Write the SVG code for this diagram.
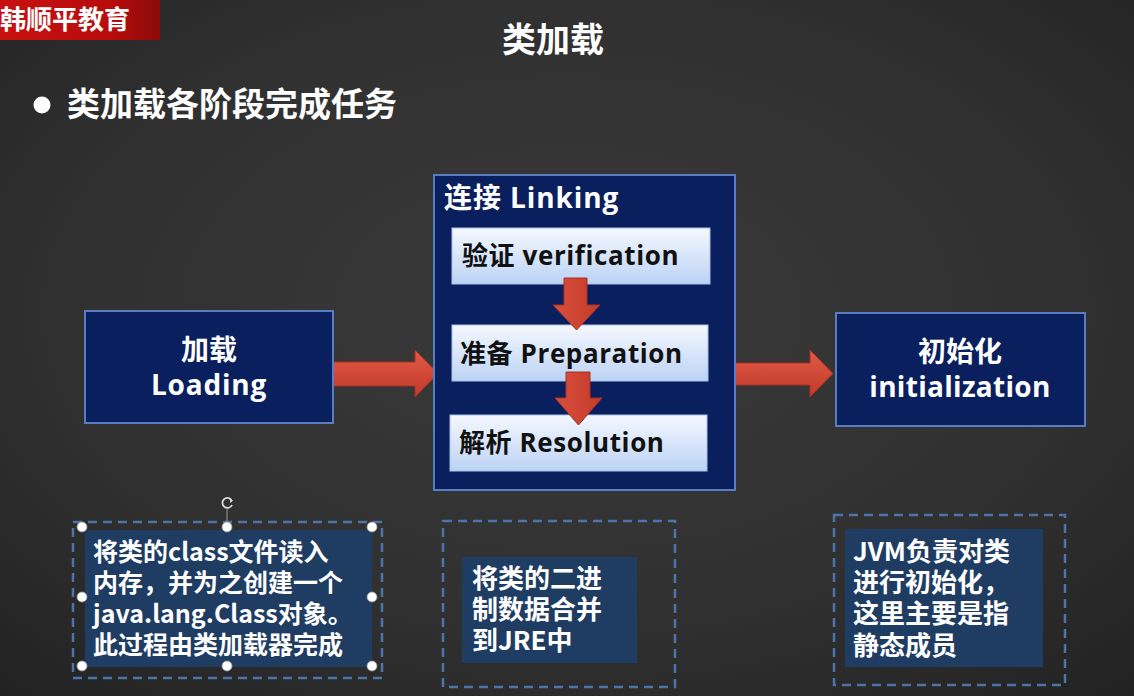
<svg xmlns="http://www.w3.org/2000/svg" width="1134" height="696" viewBox="0 0 1134 696">
  <defs>
    <radialGradient id="board" cx="50%" cy="45%" r="75%">
      <stop offset="0" stop-color="#3a3a3a"/>
      <stop offset="0.6" stop-color="#303030"/>
      <stop offset="1" stop-color="#222222"/>
    </radialGradient>
    <linearGradient id="badge" x1="0" y1="0" x2="1" y2="0">
      <stop offset="0" stop-color="#c81010"/>
      <stop offset="0.7" stop-color="#b80c0c"/>
      <stop offset="1" stop-color="#8a0a0a"/>
    </linearGradient>
    <linearGradient id="step" x1="0" y1="0" x2="0" y2="1">
      <stop offset="0" stop-color="#f4f8ff"/>
      <stop offset="1" stop-color="#bcd3f5"/>
    </linearGradient>
    <linearGradient id="arrowH" x1="0" y1="0" x2="0" y2="1">
      <stop offset="0" stop-color="#e05a45"/>
      <stop offset="1" stop-color="#c23a2a"/>
    </linearGradient>
    <linearGradient id="arrowV" x1="0" y1="0" x2="1" y2="0">
      <stop offset="0" stop-color="#d94e3b"/>
      <stop offset="1" stop-color="#c43b2b"/>
    </linearGradient>
  </defs>
  <style>
    .cjk { font-family: "Noto Sans CJK SC", "Noto Sans", sans-serif; font-weight: bold; }
    .label { font-family: "Open Sans", "Noto Sans CJK SC", sans-serif; font-weight: bold; }
    .white { fill: #ffffff; }
    .dark { fill: #111111; }
    .stage { fill: #0a1f5e; stroke: #5a7cc0; stroke-width: 2; }
    .step { fill: url(#step); stroke: #a9c1e6; stroke-width: 1; }
    .note { fill: #1f3d63; }
    .frame { fill: none; stroke: #4d74a8; stroke-width: 2.5; stroke-dasharray: 9 6; }
    .handle { fill: #ffffff; stroke: #9a9a9a; stroke-width: 0.8; }
    .arrow-h { fill: url(#arrowH); stroke: #a83020; stroke-width: 1; }
    .arrow-v { fill: url(#arrowV); stroke: #a83020; stroke-width: 1; }
  </style>

  <!-- chalkboard background -->
  <rect x="0" y="0" width="1134" height="696" fill="url(#board)"/>

  <!-- brand badge -->
  <g id="badge-group">
    <rect x="0" y="0" width="160" height="40" fill="url(#badge)"/>
    <text x="0" y="29" class="cjk white" font-size="26">韩顺平教育</text>
  </g>

  <!-- slide title and bullet -->
  <text x="553" y="52" class="cjk white" font-size="34" text-anchor="middle">类加载</text>
  <circle cx="42" cy="105" r="8.5" fill="#ffffff"/>
  <text x="67" y="116" class="cjk white" font-size="33">类加载各阶段完成任务</text>

  <!-- connectors -->
  <g id="connectors">
    <polygon class="arrow-h" points="333,362 415,362 415,350 438,373.5 415,397 415,386 333,386"/>
    <polygon class="arrow-h" points="735,363 810,363 810,350 833,373.5 810,397 810,385 735,385"/>
  </g>

  <!-- loading stage -->
  <g id="node-loading">
    <rect class="stage" x="85" y="311" width="248" height="112"/>
    <text x="209" y="360" class="label white" font-size="28" text-anchor="middle">加载</text>
    <text x="209" y="395" class="label white" font-size="28" text-anchor="middle" letter-spacing="0.8">Loading</text>
  </g>

  <!-- linking stage with its three steps -->
  <g id="node-linking">
    <rect class="stage" x="434" y="175" width="301" height="315"/>
    <text x="444" y="208" class="label white" font-size="28" letter-spacing="0.9">连接 Linking</text>
  </g>
  <g id="node-verification">
    <rect class="step" x="452" y="228" width="258" height="56"/>
    <text x="462" y="265" class="label dark" font-size="26" letter-spacing="0.6">验证 verification</text>
  </g>
  <g id="node-preparation">
    <rect class="step" x="452" y="325" width="256" height="56"/>
    <text x="460" y="363" class="label dark" font-size="26" letter-spacing="0.6">准备 Preparation</text>
  </g>
  <g id="node-resolution">
    <rect class="step" x="450" y="415" width="257" height="56"/>
    <text x="459" y="452" class="label dark" font-size="26" letter-spacing="0.6">解析 Resolution</text>
  </g>
  <!-- step arrows sit on top of the step boxes -->
  <g id="connectors-steps">
    <polygon class="arrow-v" points="564,278 587,278 587,305 600,305 576.5,330 553,305 564,305"/>
    <polygon class="arrow-v" points="566,372 590,372 590,398 602,398 578.5,425 555,398 566,398"/>
  </g>

  <!-- initialization stage -->
  <g id="node-initialization">
    <rect class="stage" x="836" y="313" width="249" height="113"/>
    <text x="960" y="362" class="label white" font-size="28" text-anchor="middle">初始化</text>
    <text x="960" y="397" class="label white" font-size="28" text-anchor="middle" letter-spacing="0.3">initialization</text>
  </g>

  <!-- note under loading (shown selected) -->
  <g id="note-loading">
    <rect class="frame" x="73" y="522" width="309" height="156"/>
    <rect class="note" x="85" y="530" width="287" height="137"/>
    <text class="cjk white" font-size="25">
      <tspan x="93" y="561">将类的class文件读入</tspan>
      <tspan x="93" y="592">内存，并为之创建一个</tspan>
      <tspan x="93" y="623">java.lang.Class对象。</tspan>
      <tspan x="93" y="654">此过程由类加载器完成</tspan>
    </text>
    <line x1="227" y1="509" x2="227" y2="527" stroke="#9a9a9a" stroke-width="1"/>
    <path d="M231.5,500 A5,5 0 1 0 232,505" fill="none" stroke="#dddddd" stroke-width="1.8"/>
    <path d="M229.5,498.5 L233,500.5 L230.5,503 Z" fill="#dddddd"/>
    <circle class="handle" cx="82" cy="527" r="5"/>
    <circle class="handle" cx="227" cy="527" r="5"/>
    <circle class="handle" cx="372" cy="527" r="5"/>
    <circle class="handle" cx="82" cy="597" r="5"/>
    <circle class="handle" cx="372" cy="597" r="5"/>
    <circle class="handle" cx="82" cy="666" r="5"/>
    <circle class="handle" cx="227" cy="666" r="5"/>
    <circle class="handle" cx="372" cy="666" r="5"/>
  </g>

  <!-- note under linking -->
  <g id="note-linking">
    <rect class="frame" x="443" y="521" width="232" height="166"/>
    <rect class="note" x="462" y="557" width="175" height="106"/>
    <text class="cjk white" font-size="26">
      <tspan x="472" y="588">将类的二进</tspan>
      <tspan x="472" y="619">制数据合并</tspan>
      <tspan x="472" y="650">到JRE中</tspan>
    </text>
  </g>

  <!-- note under initialization -->
  <g id="note-initialization">
    <rect class="frame" x="834" y="515" width="231" height="170"/>
    <rect class="note" x="845" y="529" width="198" height="138"/>
    <text class="cjk white" font-size="26">
      <tspan x="853" y="561">JVM负责对类</tspan>
      <tspan x="853" y="592">进行初始化，</tspan>
      <tspan x="853" y="623">这里主要是指</tspan>
      <tspan x="853" y="655">静态成员</tspan>
    </text>
  </g>
</svg>
